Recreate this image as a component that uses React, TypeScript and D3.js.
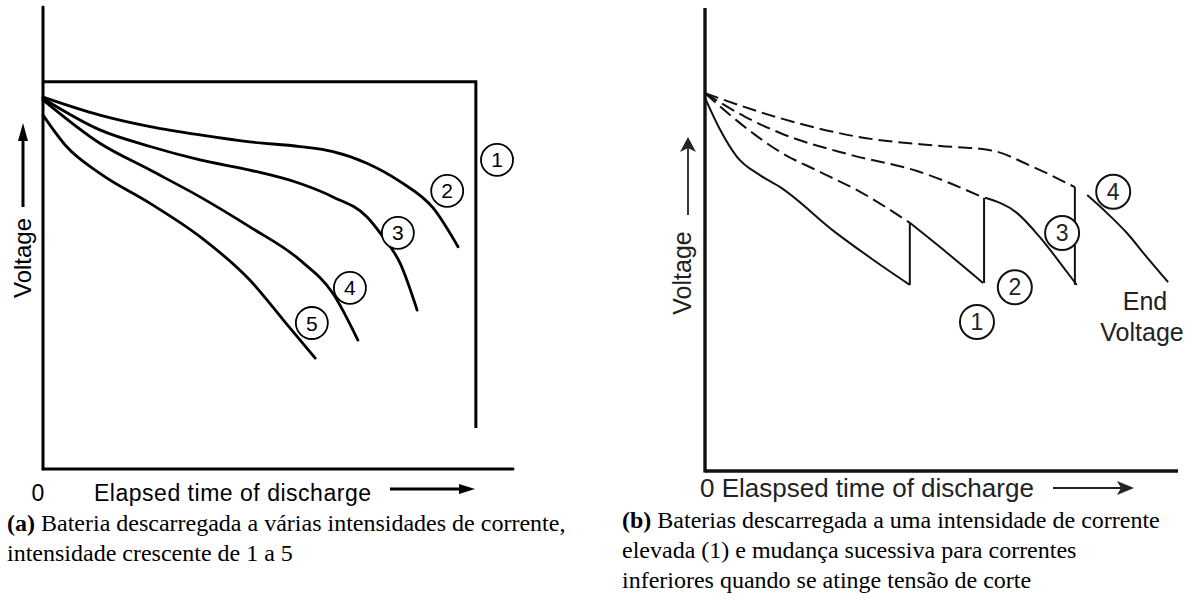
import * as d3 from 'd3';

// ---- (a) discharge at several currents, current rising from 1 to 5 ----
// curve 1 stays flat and then drops straight down
const timeA1 = [0, 9.21, 9.21];
const voltA1 = [8.38, 8.38, 0.89];
const timeA2 = [0, 1.21, 2.28, 3.34, 4.4, 5.47, 6.17, 6.89, 7.6, 8.3, 8.83];
const voltA2 = [8.05, 7.66, 7.41, 7.23, 7.08, 6.98, 6.87, 6.62, 6.22, 5.65, 4.81];
const timeA3 = [0, 1.21, 2.28, 3.34, 4.4, 5.47, 6.17, 6.89, 7.23, 7.6, 7.96];
const voltA3 = [8.02, 7.34, 6.98, 6.69, 6.47, 6.18, 5.89, 5.46, 5.03, 4.45, 3.44];
const timeA4 = [0, 1.21, 2.28, 3.34, 4.4, 5.47, 6.17, 6.7];
const voltA4 = [7.99, 7.05, 6.47, 5.89, 5.24, 4.52, 3.8, 2.79];
const timeA5 = [0, 0.5, 1.21, 2.28, 3.34, 4.4, 5.11, 5.79];
const voltA5 = [7.66, 6.98, 6.4, 5.75, 5.03, 4.09, 3.23, 2.4];

const labelsA = ['1', '2', '3', '4', '5'];
const labelTimeA = [9.66, 8.6, 7.55, 6.53, 5.72];
const labelVoltA = [6.69, 6.02, 5.11, 3.92, 3.16];

// ---- (b) high current first, then switching to lower currents at cut-off ----
// solid parts actually followed by the battery
const timeB1 = [0, 0.32, 0.68, 1.16, 1.59, 2.75, 3.53, 4.33];
const voltB1 = [8.06, 7.37, 6.78, 6.39, 6.13, 5.16, 4.58, 4.02];
const timeB2 = [4.33, 5.12, 5.88];
const voltB2 = [5.36, 4.71, 4.06];
const timeB3 = [5.92, 6.6, 7.08, 7.51, 7.86];
const voltB3 = [5.9, 5.57, 5.05, 4.49, 4.02];
const timeB4 = [8.08, 8.5, 8.92, 9.34, 9.79];
const voltB4 = [5.96, 5.57, 5.14, 4.62, 4.08];
// jumps when the current is switched
const jumpTimeB = [4.33, 5.9, 7.82];
const jumpLowB = [4.02, 4.06, 4.02];
const jumpHighB = [5.36, 5.9, 6.13];
// dashed: what the lower currents would have given from the start
const timeD2 = [0, 0.53, 1.06, 1.59, 2.43, 3.28, 4.33];
const voltD2 = [8.16, 7.69, 7.26, 6.89, 6.46, 6.03, 5.36];
const timeD3 = [0, 0.85, 1.59, 3.07, 4.48, 5.9];
const voltD3 = [8.16, 7.65, 7.3, 6.83, 6.48, 5.9];
const timeD4 = [0, 1.59, 3.28, 4.97, 6.03, 6.93, 7.82];
const voltD4 = [8.16, 7.62, 7.21, 7.02, 6.93, 6.57, 6.13];

const labelsB = ['1', '2', '3', '4'];
const labelTimeB = [5.75, 6.55, 7.55, 8.63];
const labelVoltB = [3.22, 3.97, 5.14, 6.03];

const captionA = ['(a)', ' Bateria descarregada a várias intensidades de corrente,', 'intensidade crescente de 1 a 5'];
const captionB = [
  '(b)',
  ' Baterias descarregada a uma intensidade de corrente',
  'elevada (1) e mudança sucessiva para correntes',
  'inferiores quando se atinge tensão de corte',
];

const W = 1196;
const H = 609;
const sans = '"Liberation Sans", Arial, Helvetica, sans-serif';
const serif = '"Liberation Serif", "Times New Roman", serif';

const xA = d3.scaleLinear().domain([0, 10]).range([43, 513]);
const yA = d3.scaleLinear().domain([0, 10]).range([469, 7]);
const xB = d3.scaleLinear().domain([0, 10]).range([705, 1178]);
const yB = d3.scaleLinear().domain([0, 10]).range([471, 8]);

function pathOf(
  xs: number[],
  ys: number[],
  x: d3.ScaleLinear<number, number>,
  y: d3.ScaleLinear<number, number>,
  curve: d3.CurveFactory = d3.curveMonotoneX
) {
  const pts = d3.zip(xs, ys) as [number, number][];
  return d3
    .line<[number, number]>()
    .x((d) => x(d[0]))
    .y((d) => y(d[1]))
    .curve(curve)(pts) as string;
}

export default function App() {
  const curvesA = [
    [timeA2, voltA2],
    [timeA3, voltA3],
    [timeA4, voltA4],
    [timeA5, voltA5],
  ];
  const solidB = [
    [timeB1, voltB1],
    [timeB2, voltB2],
    [timeB3, voltB3],
    [timeB4, voltB4],
  ];
  const dashedB = [
    [timeD2, voltD2],
    [timeD3, voltD3],
    [timeD4, voltD4],
  ];

  return (
    <div style={{ position: 'absolute', left: 0, top: 0 }}>
      <svg width={W} height={H} style={{ display: 'block', background: '#fff' }}>
        {/* ---------- panel (a) ---------- */}
        <g fill="none" stroke="#000" strokeLinecap="round">
          <line x1={xA(0)} x2={xA(0)} y1={yA(0)} y2={yA(10)} strokeWidth={3} />
          <line x1={xA(0)} x2={xA(10)} y1={yA(0)} y2={yA(0)} strokeWidth={3} />
          <path d={pathOf(timeA1, voltA1, xA, yA, d3.curveLinear)} strokeWidth={3} strokeLinejoin="miter" strokeLinecap="butt" />
          {curvesA.map(([t, v], i) => (
            <path key={i} d={pathOf(t, v, xA, yA)} strokeWidth={2.8} />
          ))}
        </g>
        {labelsA.map((l, i) => (
          <g key={l} transform={`translate(${xA(labelTimeA[i])},${yA(labelVoltA[i])})`}>
            <circle r={16} fill="#fff" stroke="#000" strokeWidth={1.8} />
            <text dy="0.36em" textAnchor="middle" fontFamily={sans} fontSize={21} fill="#000">
              {l}
            </text>
          </g>
        ))}
        {/* y title + arrow */}
        <text
          transform="translate(31,258) rotate(-90)"
          textAnchor="middle"
          fontFamily={sans}
          fontSize={24}
          fill="#000"
        >
          Voltage
        </text>
        <line x1={23} x2={23} y1={207} y2={136} stroke="#000" strokeWidth={3} />
        <path d="M23,123 L18,141 L28,141 Z" fill="#000" />
        {/* x title + arrow */}
        <text x={38} y={501} textAnchor="middle" fontFamily={sans} fontSize={23} fill="#000">
          0
        </text>
        <text x={94} y={501} fontFamily={sans} fontSize={23} fill="#000" textLength={277} lengthAdjust="spacing">
          Elapsed time of discharge
        </text>
        <line x1={390} x2={462} y1={489} y2={489} stroke="#000" strokeWidth={3} />
        <path d="M475,489 L459,484 L459,494 Z" fill="#000" />
        <text fontFamily={serif} fontSize={24} fill="#000">
          <tspan x={7} y={531} fontWeight="bold">
            {captionA[0]}
          </tspan>
          <tspan>{captionA[1]}</tspan>
          <tspan x={7} y={561}>
            {captionA[2]}
          </tspan>
        </text>

        {/* ---------- panel (b) ---------- */}
        <g fill="none" stroke="#111">
          <line x1={xB(0)} x2={xB(0)} y1={yB(0) + 1.5} y2={yB(10)} strokeWidth={3.4} />
          <line x1={xB(0)} x2={xB(10)} y1={yB(0)} y2={yB(0)} strokeWidth={3.4} />
          {dashedB.map(([t, v], i) => (
            <path key={'d' + i} d={pathOf(t, v, xB, yB)} strokeWidth={2} strokeDasharray="14 6" />
          ))}
          {solidB.map(([t, v], i) => (
            <path key={'s' + i} d={pathOf(t, v, xB, yB)} strokeWidth={2} />
          ))}
          {jumpTimeB.map((t, i) => (
            <line key={'j' + i} x1={xB(t)} x2={xB(t)} y1={yB(jumpLowB[i])} y2={yB(jumpHighB[i])} strokeWidth={2} />
          ))}
        </g>
        {labelsB.map((l, i) => (
          <g key={l} transform={`translate(${xB(labelTimeB[i])},${yB(labelVoltB[i])})`}>
            <circle r={17} fill="#fff" stroke="#111" strokeWidth={2} />
            <text dy="0.36em" textAnchor="middle" fontFamily={sans} fontSize={23} fill="#222">
              {l}
            </text>
          </g>
        ))}
        <text x={1145} y={310} textAnchor="middle" fontFamily={sans} fontSize={25} fill="#222">
          End
        </text>
        <text x={1142} y={341} textAnchor="middle" fontFamily={sans} fontSize={25} fill="#222">
          Voltage
        </text>
        <text
          transform="translate(691,273) rotate(-90)"
          textAnchor="middle"
          fontFamily={sans}
          fontSize={25}
          fill="#222"
        >
          Voltage
        </text>
        <line x1={688} x2={688} y1={215} y2={146} stroke="#222" strokeWidth={1.8} />
        <path d="M688,137 L680,152 L688,148 L696,152 Z" fill="#222" />
        <text x={700} y={497} fontFamily={sans} fontSize={26} fill="#222">
          0 Elaspsed time of discharge
        </text>
        <line x1={1053} x2={1124} y1={488} y2={488} stroke="#222" strokeWidth={1.8} />
        <path d="M1134,488 L1117,481 L1121,488 L1117,495 Z" fill="#222" />
        <text fontFamily={serif} fontSize={24} fill="#000">
          <tspan x={622} y={528} fontWeight="bold">
            {captionB[0]}
          </tspan>
          <tspan>{captionB[1]}</tspan>
          <tspan x={622} y={558}>
            {captionB[2]}
          </tspan>
          <tspan x={622} y={588}>
            {captionB[3]}
          </tspan>
        </text>
      </svg>
    </div>
  );
}
